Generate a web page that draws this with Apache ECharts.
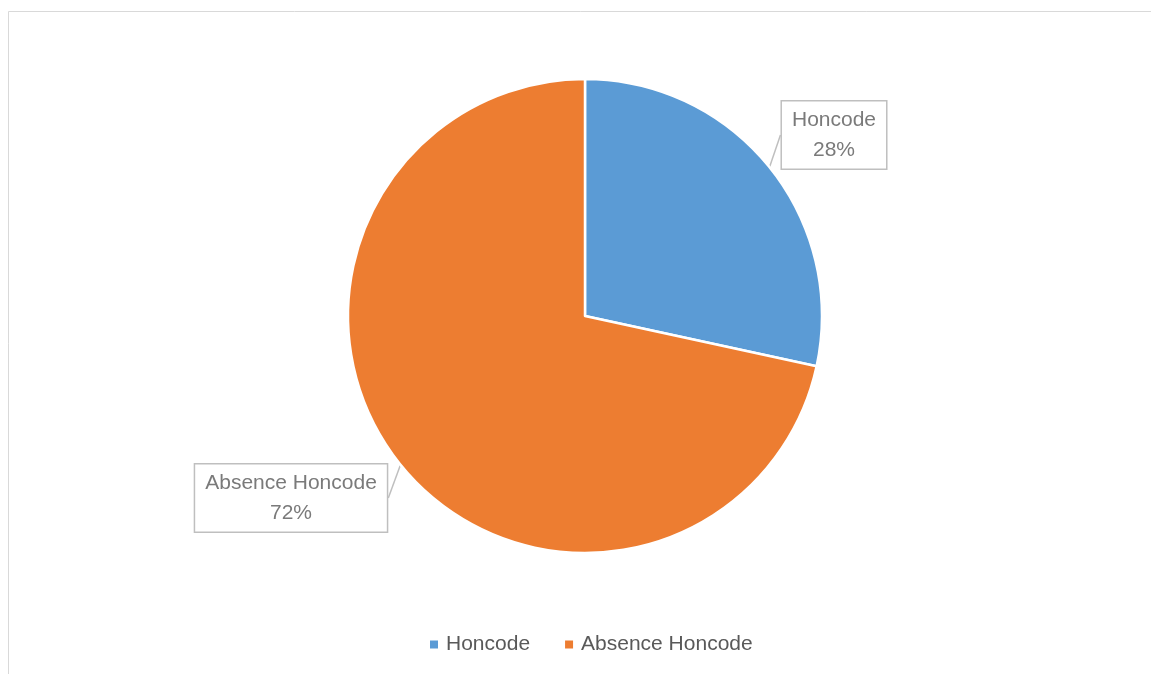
<!DOCTYPE html>
<html>
<head>
<meta charset="utf-8">
<style>
html,body{margin:0;padding:0;background:#fff;}
#chart{width:1151px;height:674px;}
</style>
<script src="https://cdn.jsdelivr.net/npm/echarts@6/dist/echarts.min.js"></script>
</head>
<body>
<div id="chart"></div>
<script>
const categories = ['Honcode', 'Absence Honcode'];
const values = [28.4, 71.6];
const colors = ['#5B9BD5', '#ED7D31'];

const chart = echarts.init(document.getElementById('chart'));
const labelPos = [
  {x: 834, y: 135},
  {x: 291, y: 498}
];
chart.setOption({
  animation: false,
  backgroundColor: '#fff',
  graphic: [{
    type: 'rect',
    shape: {x: 8.5, y: 11.5, width: 1300, height: 800},
    style: {fill: 'none', stroke: '#d9d9d9', lineWidth: 1},
    silent: true
  }],
  legend: {
    bottom: 14,
    left: 423,
    icon: 'rect',
    itemWidth: 10,
    itemHeight: 10,
    itemGap: 33,
    textStyle: {fontFamily: 'Liberation Sans', fontSize: 21, color: '#595959', padding: [0, 0, 0, 2]},
    data: categories
  },
  series: [{
    type: 'pie',
    center: [585, 316],
    radius: 237,
    startAngle: 90,
    clockwise: true,
    itemStyle: {borderColor: '#fff', borderWidth: 2.5},
    label: {
      show: true,
      position: 'outside',
      formatter: p => p.name + '\n' + Math.round(p.percent) + '%',
      fontFamily: 'Liberation Sans',
      fontSize: 21,
      lineHeight: 30,
      color: '#7a7a7a',
      align: 'center',
      backgroundColor: '#fff',
      borderColor: '#bfbfbf',
      borderWidth: 1.5,
      padding: [4, 10, 3, 10]
    },
    labelLine: {show: true, length: 0, length2: 0, lineStyle: {color: '#bfbfbf', width: 1.5}},
    labelLayout: function (params) {
      const p = labelPos[params.dataIndex];
      return {x: p.x, y: p.y, align: 'center', verticalAlign: 'middle', moveOverlap: null};
    },
    emphasis: {disabled: true},
    data: categories.map((c, i) => ({name: c, value: values[i], itemStyle: {color: colors[i]}}))
  }]
});
</script>
</body>
</html>
